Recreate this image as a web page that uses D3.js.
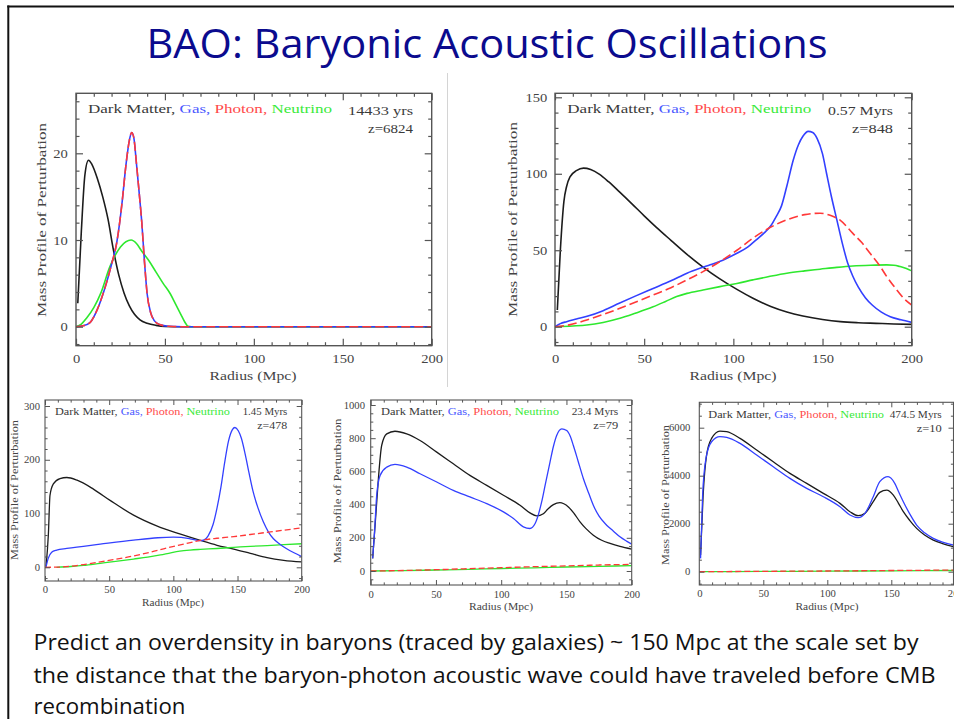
<!DOCTYPE html>
<html><head><meta charset="utf-8">
<script src="https://cdn.jsdelivr.net/npm/d3@7"></script>
<style>body{margin:0;background:#fff;} svg{display:block;}</style>
</head><body>
<svg id="c" width="954" height="719"></svg>
<script>
// ---------------- DATA ----------------
const titleText = "BAO: Baryonic Acoustic Oscillations";
const bodyLines = [
  "Predict an overdensity in baryons (traced by galaxies) ~ 150 Mpc at the scale set by",
  "the distance that the baryon-photon acoustic wave could have traveled before CMB",
  "recombination"
];
const legendNames = ["Dark Matter, ", "Gas, ", "Photon, ", "Neutrino"];
const xTicks = [0, 50, 100, 150, 200];
const xTitle = "Radius (Mpc)";
const yTitle = "Mass Profile of Perturbation";

// Panel 1 : 14433 yrs, z=6824
const p1Time = "14433 yrs", p1Z = "z=6824";
const p1YTicks = [0, 10, 20];
const p1DarkR = [1, 3, 5, 7, 9, 12, 15, 18, 21, 24, 27, 30, 33, 36, 40, 45, 50, 60, 200];
const p1DarkV = [2.7, 11, 17.5, 19.2, 18.7, 17.1, 15.0, 12.4, 8.9, 6.0, 3.9, 2.4, 1.4, 0.8, 0.4, 0.15, 0.03, 0, 0];
const p1GasR = [0, 4, 8, 12, 16, 20, 23, 26, 28, 30, 31.3, 32.5, 34, 35.5, 37, 38.5, 40, 42, 44, 47, 52, 60, 200];
const p1GasV = [0, 0.1, 0.5, 2.0, 4.3, 7.2, 9.8, 14.5, 18.5, 21.5, 22.4, 21.8, 18.8, 15.5, 12.0, 7.5, 3.8, 1.6, 0.7, 0.25, 0.05, 0, 0];
const p1PhotonR = [0, 4, 8, 12, 16, 20, 23, 26, 28, 30, 31.3, 32.5, 34, 35.5, 37, 38.5, 40, 42, 44, 47, 52, 60, 200];
const p1PhotonV = [0, 0.1, 0.5, 2.0, 4.3, 7.2, 9.8, 14.5, 18.5, 21.5, 22.4, 21.8, 18.8, 15.5, 12.0, 7.5, 3.8, 1.6, 0.7, 0.25, 0.05, 0, 0];
const p1NeuR = [0, 3, 6, 10, 14, 19, 25, 31, 34, 37, 41, 45, 49, 53, 56, 59, 61, 63, 65, 200];
const p1NeuV = [0, 0.3, 1.0, 2.2, 3.9, 6.9, 9.2, 10, 9.6, 8.7, 7.6, 6.3, 5.0, 3.8, 2.6, 1.4, 0.6, 0.05, 0, 0];

// Panel 2 : 0.57 Myrs, z=848
const p2Time = "0.57 Myrs", p2Z = "z=848";
const p2YTicks = [0, 50, 100, 150];
const p2DarkR = [1.3, 3, 5, 6.5, 8.4, 12, 16, 20, 25, 30, 36, 43, 50, 57, 65, 74, 83, 92, 102, 111, 121, 130, 139, 150, 160, 170, 180, 190, 200];
const p2DarkV = [10.9, 50, 82, 91.7, 98, 102, 103.7, 102.8, 99.6, 94.8, 88.3, 80.5, 72.5, 64.8, 56.5, 47.3, 39, 31.6, 24.4, 18.6, 13.2, 9.6, 7, 4.7, 3.3, 2.6, 2.2, 1.8, 1.5];
const p2GasR = [0, 3, 6.5, 12, 18, 27, 36, 45, 55, 65, 74, 82, 87, 95, 102, 108, 113, 117, 121, 124, 127, 130, 133.6, 136.5, 139, 142, 144.5, 147, 150, 152.3, 155, 158, 161, 164, 167, 170, 174, 178, 183, 188, 194, 200];
const p2GasV = [0, 2, 3.3, 5, 6.8, 10.5, 15.3, 20, 25, 30, 35, 38.5, 40.5, 44, 48, 52, 57, 61, 66, 72, 79, 92, 109, 119, 124.5, 127.7, 127, 123, 113, 100, 85, 70, 55, 42, 33, 26, 19, 14, 9.5, 6.5, 4.5, 2.8];
const p2PhotonR = [0, 8, 17.8, 27, 36.4, 45, 55, 65, 74, 83, 92.5, 102, 111, 120, 130, 140, 148.6, 155, 160, 167, 172, 177, 182, 186, 191, 196, 200];
const p2PhotonV = [0, 1.2, 4.4, 8, 12, 16, 20.7, 25.5, 30.6, 36, 42.6, 50, 57.9, 64.5, 69.9, 73.3, 74.2, 72.5, 69.5, 61, 55, 47.5, 40, 32.8, 25, 18, 14.2];
const p2NeuR = [0, 10, 17.8, 27, 36.4, 45, 55, 62, 68.2, 74, 83, 92.5, 102, 111, 120, 130, 140, 148.6, 158, 167, 177, 186, 190, 193.5, 197, 200];
const p2NeuV = [0, 0.5, 1.1, 2.8, 5.5, 8.8, 13, 16.5, 19.7, 21.8, 24, 26.2, 28.3, 30.6, 32.8, 35, 36.5, 37.6, 38.8, 39.7, 40.2, 40.4, 40.2, 39.3, 38, 36.5];

// Panel 3 : 1.45 Myrs, z=478
const p3Time = "1.45 Myrs", p3Z = "z=478";
const p3YTicks = [0, 100, 200, 300];
const p3DarkR = [0.8, 2.6, 3.9, 6.5, 11.7, 17, 25, 38, 51, 69, 87, 105, 121, 134, 147, 160, 173, 186, 200];
const p3DarkV = [1, 60, 134, 155, 165, 167, 162, 145, 124, 97, 77, 62, 50, 41, 34, 26, 18, 13, 10];
const p3GasR = [0.8, 2.6, 5.2, 9.1, 17, 43, 69, 88, 100, 106, 113, 118, 121, 124, 127, 131, 134, 137, 140, 143, 146, 148, 150.6, 153, 156, 159, 162, 166, 170, 174, 178, 183, 188, 194, 200];
const p3GasV = [1, 17, 28, 32, 35, 43, 50.6, 55, 56, 55.5, 53, 50.5, 49.5, 51, 58, 80, 110, 148, 195, 235, 256, 260, 254, 240, 210, 175, 142, 110, 85, 66, 53, 43, 35, 27, 20];
const p3PhotonR = [0, 10, 20, 30, 43, 55, 69, 82, 95, 108, 121, 134, 147, 160, 173, 186, 200];
const p3PhotonV = [0, 0.3, 2, 5, 10, 15, 21, 28, 36, 43, 50, 54, 57, 61, 65, 69, 73.5];
const p3NeuR = [9, 20, 30, 43, 55, 69, 80, 90, 98, 105, 113, 121, 134, 147, 160, 173, 186, 200];
const p3NeuV = [0, 1.5, 3.5, 7.4, 11, 15.4, 19, 23, 27, 30, 32, 33.3, 35, 37, 39, 40.5, 42, 43.8];

// Panel 4 : 23.4 Myrs, z=79
const p4Time = "23.4 Myrs", p4Z = "z=79";
const p4YTicks = [0, 200, 400, 600, 800, 1000];
const p4DarkR = [1.5, 4.1, 5.9, 8.4, 12.3, 18.6, 27.6, 37.8, 50.6, 63.3, 76, 88.9, 101.7, 114.4, 122, 127.2, 132.3, 136, 140, 145, 148, 151.5, 156, 160.4, 165, 170.6, 177, 183.4, 191, 200];
const p4DarkV = [76, 356, 556, 756, 826, 842, 826, 786, 716, 646, 576, 516, 456, 396, 350, 332, 345, 375, 400, 412, 405, 386, 345, 296, 255, 216, 185, 166, 148, 132];
const p4GasR = [1.5, 2.8, 4.6, 7.2, 12.3, 18.6, 27.6, 37.8, 50.6, 63.3, 76, 88.9, 101.7, 109.4, 117, 122, 126, 131, 134, 137.4, 140, 142.5, 146.4, 150.2, 153, 155.3, 159, 163, 167, 170.6, 175, 180.8, 186, 191, 196, 200];
const p4GasV = [76, 216, 456, 576, 626, 642, 626, 586, 536, 486, 446, 406, 356, 316, 266, 256, 286, 416, 530, 656, 750, 816, 856, 846, 810, 756, 660, 556, 470, 396, 330, 276, 240, 206, 180, 162];
const p4PhotonR = [0, 25, 50, 75, 100, 125, 150, 175, 200];
const p4PhotonV = [0, 3, 8, 14, 20, 26, 31, 36, 40];
const p4NeuR = [0, 25, 50, 75, 100, 125, 150, 175, 200];
const p4NeuV = [0, 2, 6, 10, 15, 19, 24, 28, 32];

// Panel 5 : 474.5 Myrs, z=10
const p5Time = "474.5 Myrs", p5Z = "z=10";
const p5YTicks = [0, 2000, 4000, 6000];
const p5DarkR = [1, 3, 5.7, 9.6, 16.1, 21.4, 31.8, 44.8, 57.8, 70.8, 83.9, 96.9, 109.9, 117.7, 124.2, 129.4, 135.9, 141, 146.4, 151.6, 155.5, 159.4, 164.5, 169.8, 176, 182.8, 190, 198.4, 200];
const p5DarkV = [694, 3194, 4861, 5555, 5861, 5833, 5555, 5069, 4583, 4097, 3680, 3264, 2847, 2500, 2333, 2430, 2916, 3305, 3402, 3194, 2860, 2500, 2130, 1805, 1530, 1319, 1170, 1041, 1020];
const p5GasR = [1, 2.6, 5.2, 9.6, 16.1, 21.4, 31.8, 44.8, 57.8, 70.8, 83.9, 96.9, 109.9, 117.7, 124.2, 129.4, 135.9, 141, 147.5, 152.7, 156, 159.4, 164.5, 169.8, 176, 182.8, 190, 198.4, 200];
const p5GasV = [555, 3194, 4722, 5416, 5625, 5597, 5347, 4861, 4375, 3889, 3472, 3125, 2708, 2361, 2250, 2430, 3125, 3750, 3958, 3680, 3300, 2916, 2400, 1944, 1620, 1389, 1230, 1111, 1090];
const p5PhotonR = [0, 50, 100, 150, 200];
const p5PhotonV = [0, 15, 30, 50, 70];
const p5NeuR = [0, 50, 100, 150, 200];
const p5NeuV = [0, 10, 22, 36, 50];

// ---------------- STYLE / LAYOUT ----------------
const colors = {dark: "#1c1c1c", gas: "#3340ff", photon: "#ff3838", neu: "#2ee82e"};
const legendColors = ["#3a3a3a", "#4a58ff", "#ff4a4a", "#3aea3a"];
const FONT = "'Liberation Serif', 'DejaVu Serif', serif";
const TXT = "#444";

const panels = [
  {x0: 76, x200: 431.7, yRef: 20, y0px: 326.7, yRefPx: 153.3,
   L: 76, R: 431.7, T: 93.3, B: 345.7, yTicks: p1YTicks, yMinor: 2,
   series: [[p1DarkR, p1DarkV, "dark"], [p1NeuR, p1NeuV, "neu"], [p1GasR, p1GasV, "gas"], [p1PhotonR, p1PhotonV, "photon"]],
   time: p1Time, z: p1Z, big: true,
   legX: 88, legW: 244, legY: 113, timeRight: 413, timeW: 65, timeY: 115, zY: 133, zW: 45,
   yLabPad: 8.3, xLabPad: 8, xTitleX: 253, xTitleY: 380, xTitleW: 87, yTitleX: 41.7, yTitleY: 220, yTitleW: 194},
  {x0: 555, x200: 911.7, yRef: 150, y0px: 326.7, yRefPx: 97.3,
   L: 555, R: 911.7, T: 93.3, B: 345.7, yTicks: p2YTicks, yMinor: 10,
   series: [[p2DarkR, p2DarkV, "dark"], [p2NeuR, p2NeuV, "neu"], [p2GasR, p2GasV, "gas"], [p2PhotonR, p2PhotonV, "photon"]],
   time: p2Time, z: p2Z, big: true,
   legX: 567.3, legW: 244, legY: 113, timeRight: 893, timeW: 65, timeY: 115, zY: 133, zW: 41,
   yLabPad: 7.7, xLabPad: 8, xTitleX: 733, xTitleY: 380, xTitleW: 87, yTitleX: 512.7, yTitleY: 219.5, yTitleW: 195},
  {x0: 45, x200: 301.7, yRef: 300, y0px: 567.3, yRefPx: 406,
   L: 45, R: 301.7, T: 400, B: 581, yTicks: p3YTicks, yMinor: 20,
   series: [[p3DarkR, p3DarkV, "dark"], [p3NeuR, p3NeuV, "neu"], [p3GasR, p3GasV, "gas"], [p3PhotonR, p3PhotonV, "photon"]],
   time: p3Time, z: p3Z, big: false,
   legX: 55, legW: 175, legY: 415, timeRight: 287.3, timeW: 44.6, timeY: 415, zY: 428.5, zW: 30,
   yLabPad: 5, xLabPad: 5.5, xTitleX: 173, xTitleY: 606, xTitleW: 62, yTitleX: 15, yTitleY: 490, yTitleW: 140},
  {x0: 370.7, x200: 631.7, yRef: 1000, y0px: 571, yRefPx: 405,
   L: 370.7, R: 631.7, T: 400, B: 585, yTicks: p4YTicks, yMinor: 50,
   series: [[p4DarkR, p4DarkV, "dark"], [p4GasR, p4GasV, "gas"], [p4NeuR, p4NeuV, "neu"], [p4PhotonR, p4PhotonV, "photon"]],
   time: p4Time, z: p4Z, big: false,
   legX: 381, legW: 178, legY: 415, timeRight: 618.3, timeW: 46.6, timeY: 415, zY: 429, zW: 25,
   yLabPad: 5.7, xLabPad: 6, xTitleX: 501, xTitleY: 610, xTitleW: 64, yTitleX: 338, yTitleY: 491, yTitleW: 145},
  {x0: 699.3, x200: 955.3, yRef: 6000, y0px: 571.7, yRefPx: 427.7,
   L: 699.3, R: 953.5, T: 402.3, B: 585, yTicks: p5YTicks, yMinor: 500,
   series: [[p5DarkR, p5DarkV, "dark"], [p5GasR, p5GasV, "gas"], [p5NeuR, p5NeuV, "neu"], [p5PhotonR, p5PhotonV, "photon"]],
   time: p5Time, z: p5Z, big: false,
   legX: 708.3, legW: 175.7, legY: 418, timeRight: 941.7, timeW: 52, timeY: 418, zY: 432, zW: 25,
   yLabPad: 9, xLabPad: 5.3, xTitleX: 827, xTitleY: 610, xTitleW: 63, yTitleX: 666, yTitleY: 495, yTitleW: 140}
];

const svg = d3.select("#c");

// slide border
svg.append("line").attr("x1", 7.3).attr("x2", 954).attr("y1", 6.5).attr("y2", 6.5)
  .attr("stroke", "#111").attr("stroke-width", 2);
svg.append("line").attr("x1", 8.3).attr("x2", 8.3).attr("y1", 5.5).attr("y2", 719)
  .attr("stroke", "#111").attr("stroke-width", 2);
// separator
svg.append("line").attr("x1", 447.5).attr("x2", 447.5).attr("y1", 73).attr("y2", 387)
  .attr("stroke", "#d4d4d4").attr("stroke-width", 1);

// title
svg.append("text").attr("x", 146.5).attr("y", 57.7).text(titleText)
  .attr("font-family", "'Open Sans', 'Noto Sans', sans-serif").attr("font-size", 41)
  .attr("fill", "#0b0b8e").attr("textLength", 681).attr("lengthAdjust", "spacingAndGlyphs");

// body text
const bodyW = [885, 902, 152];
const bodyY = [650, 683, 714];
bodyLines.forEach((s, i) => {
  svg.append("text").attr("x", 33.5).attr("y", bodyY[i]).text(s)
    .attr("font-family", "'Open Sans', 'Noto Sans', sans-serif").attr("font-size", 21.5)
    .attr("fill", "#111").attr("textLength", bodyW[i]).attr("lengthAdjust", "spacingAndGlyphs");
});

function widen(sel, f) {
  sel.each(function () {
    const w = this.getComputedTextLength();
    d3.select(this).attr("textLength", w * f).attr("lengthAdjust", "spacingAndGlyphs");
  });
}

panels.forEach((p, pi) => {
  const g = svg.append("g");
  const x = d3.scaleLinear().domain([0, 200]).range([p.x0, p.x200]);
  const y = d3.scaleLinear().domain([0, p.yRef]).range([p.y0px, p.yRefPx]);
  const big = p.big;
  const lw = big ? 1.6 : 1.3;
  const tickMaj = big ? 7 : 5, tickMin = big ? 3.5 : 2.6;
  const fs = big ? 13 : 9.5;

  // clip
  const cid = "clip" + pi;
  svg.append("clipPath").attr("id", cid).append("rect")
    .attr("x", p.L).attr("y", p.T).attr("width", p.R - p.L).attr("height", p.B - p.T);

  const line = d3.line().x(d => x(d[0])).y(d => y(d[1])).curve(d3.curveMonotoneX);
  const cg = g.append("g").attr("clip-path", `url(#${cid})`);
  p.series.forEach(([R, V, key]) => {
    const pts = R.map((r, i) => [r, V[i]]);
    const path = cg.append("path").attr("d", line(pts)).attr("fill", "none")
      .attr("stroke", colors[key]).attr("stroke-width", lw)
      .attr("stroke-linejoin", "round");
    if (key === "photon") path.attr("stroke-dasharray", big ? "9,4" : "6,3");
  });

  // frame
  g.append("rect").attr("x", p.L).attr("y", p.T).attr("width", p.R - p.L).attr("height", p.B - p.T)
    .attr("fill", "none").attr("stroke", "#555").attr("stroke-width", big ? 1.4 : 1.1);

  // axes
  const xMinor = d3.range(0, 201, 10).filter(v => xTicks.indexOf(v) < 0);
  const yLo = y.invert(p.B), yHi = y.invert(p.T);
  const yMinor = d3.range(Math.ceil(yLo / p.yMinor) * p.yMinor, yHi, p.yMinor)
    .filter(v => p.yTicks.indexOf(v) < 0);
  const step = p.yTicks[1] - p.yTicks[0];
  const yMajor = d3.range(Math.ceil(yLo / step) * step, yHi, step);

  function styleAxis(a) {
    a.select(".domain").remove();
    a.selectAll("line").attr("stroke", "#555").attr("stroke-width", big ? 1.2 : 1);
    a.attr("font-family", FONT).attr("font-size", fs);
    a.selectAll("text").attr("fill", TXT);
  }

  const bx = g.append("g").attr("transform", `translate(0,${p.B})`)
    .call(d3.axisBottom(x).tickValues(xTicks).tickSize(-tickMaj).tickSizeOuter(0).tickPadding(p.xLabPad).tickFormat(d3.format("d")));
  styleAxis(bx); widen(bx.selectAll("text"), 1.12);
  const bxm = g.append("g").attr("transform", `translate(0,${p.B})`)
    .call(d3.axisBottom(x).tickValues(xMinor).tickSize(-tickMin).tickSizeOuter(0).tickFormat(""));
  styleAxis(bxm);
  const tx = g.append("g").attr("transform", `translate(0,${p.T})`)
    .call(d3.axisTop(x).tickValues(xTicks).tickSize(-tickMaj).tickSizeOuter(0).tickFormat(""));
  styleAxis(tx);
  const txm = g.append("g").attr("transform", `translate(0,${p.T})`)
    .call(d3.axisTop(x).tickValues(xMinor).tickSize(-tickMin).tickSizeOuter(0).tickFormat(""));
  styleAxis(txm);

  const ly = g.append("g").attr("transform", `translate(${p.L},0)`)
    .call(d3.axisLeft(y).tickValues(p.yTicks).tickSize(-tickMaj).tickSizeOuter(0).tickPadding(p.yLabPad).tickFormat(d3.format("d")));
  styleAxis(ly); widen(ly.selectAll("text"), 1.12);
  const lym = g.append("g").attr("transform", `translate(${p.L},0)`)
    .call(d3.axisLeft(y).tickValues(yMinor).tickSize(-tickMin).tickSizeOuter(0).tickFormat(""));
  styleAxis(lym);
  const ry = g.append("g").attr("transform", `translate(${p.R},0)`)
    .call(d3.axisRight(y).tickValues(yMajor).tickSize(-tickMaj).tickSizeOuter(0).tickFormat(""));
  styleAxis(ry);
  const rym = g.append("g").attr("transform", `translate(${p.R},0)`)
    .call(d3.axisRight(y).tickValues(yMinor).tickSize(-tickMin).tickSizeOuter(0).tickFormat(""));
  styleAxis(rym);

  // axis titles
  g.append("text").attr("x", p.xTitleX).attr("y", p.xTitleY).attr("text-anchor", "middle")
    .attr("font-family", FONT).attr("font-size", fs).attr("fill", TXT).text(xTitle)
    .attr("textLength", p.xTitleW).attr("lengthAdjust", "spacingAndGlyphs");
  g.append("text").attr("transform", `translate(${p.yTitleX + fs * 0.35},${p.yTitleY}) rotate(-90)`)
    .attr("text-anchor", "middle")
    .attr("font-family", FONT).attr("font-size", fs).attr("fill", TXT).text(yTitle)
    .attr("textLength", p.yTitleW).attr("lengthAdjust", "spacingAndGlyphs");

  // legend (colored segments laid out in sequence)
  const lfs = big ? 13.5 : 9.8;
  const segs = legendNames.map((s, i) => g.append("text").attr("y", p.legY)
    .attr("font-family", FONT).attr("font-size", lfs).attr("fill", legendColors[i])
    .style("white-space", "pre").text(s));
  const widths = segs.map(s => s.node().getComputedTextLength());
  const total = d3.sum(widths);
  const f = p.legW / total;
  let cx = p.legX;
  segs.forEach((s, i) => {
    s.attr("x", cx).attr("textLength", widths[i] * f).attr("lengthAdjust", "spacingAndGlyphs");
    cx += widths[i] * f;
  });
  g.append("text").attr("x", p.timeRight).attr("y", p.timeY).attr("text-anchor", "end")
    .attr("font-family", FONT).attr("font-size", lfs).attr("fill", "#3a3a3a").text(p.time)
    .attr("textLength", p.timeW).attr("lengthAdjust", "spacingAndGlyphs");
  g.append("text").attr("x", p.timeRight).attr("y", p.zY).attr("text-anchor", "end")
    .attr("font-family", FONT).attr("font-size", lfs).attr("fill", "#3a3a3a").text(p.z)
    .attr("textLength", p.zW).attr("lengthAdjust", "spacingAndGlyphs");
});
</script>
</body></html>
